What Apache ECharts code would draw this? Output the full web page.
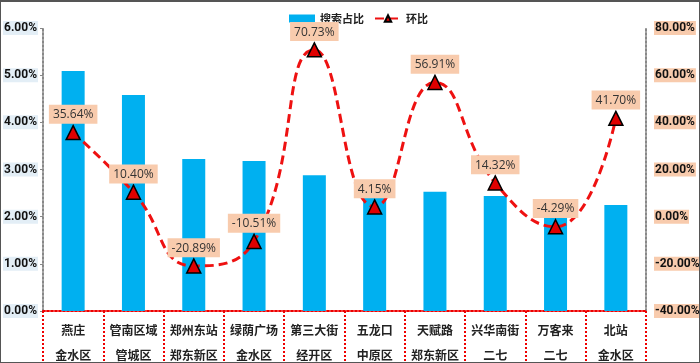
<!DOCTYPE html>
<html><head><meta charset="utf-8">
<script src="https://cdn.jsdelivr.net/npm/echarts@6/dist/echarts.min.js"></script>
<style>html,body{margin:0;padding:0;background:#fff}#w{position:relative;width:700px;height:363px}#c{width:700px;height:363px}#b{position:absolute;left:0;top:0;width:700px;height:363px;box-sizing:border-box;border:1px solid #555;border-top-width:2px;pointer-events:none}</style>
</head><body><div id="w"><div id="c"></div><div id="b"></div></div>
<script>
const places = ['燕庄','管南区域','郑州东站','绿荫广场','第三大街','五龙口','天赋路','兴华南街','万客来','北站'];
const districts = ['金水区','管城区','郑东新区','金水区','经开区','中原区','郑东新区','二七','二七','金水区'];
const searchShare = [5.09, 4.58, 3.22, 3.18, 2.88, 2.40, 2.53, 2.44, 1.97, 2.25];
const momChange = [35.64, 10.40, -20.89, -10.51, 70.73, 4.15, 56.91, 14.32, -4.29, 41.70];
const leftTicks = [0, 6, 1];
const rightTicks = [-40, 80, 20];

const font = '"Microsoft YaHei","Noto Sans CJK SC",sans-serif';
const numFont = 'Roboto,sans-serif';
const chart = echarts.init(document.getElementById('c'));
chart.setOption({
  animation: false,
  textStyle: {fontFamily: font},
  legend: {
    top: 8, left: 284, itemGap: 10,
    textStyle: {fontWeight: 'bold', fontSize: 11, color: '#222', fontFamily: font},
    data: [
      {name: '搜索占比', icon: 'rect', itemStyle: {color: '#00B0F0'}},
      {name: '环比'}
    ],
    itemWidth: 26, itemHeight: 8
  },
  grid: {left: 43, right: 54, top: 28, bottom: 52, outerBoundsMode: 'none', containLabel: false},
  xAxis: {
    type: 'category',
    data: places.map((p, i) => p + '\n' + districts[i]),
    boundaryGap: true,
    axisLine: {lineStyle: {color: '#e00', type: 'dotted', width: 2}},
    axisTick: {show: true, interval: 0, length: 52, lineStyle: {color: '#e00', type: 'dotted', width: 2}},
    axisLabel: {interval: 0, align: 'center', fontWeight: 'bold', fontSize: 12, color: '#222', lineHeight: 25, margin: 7, fontFamily: font}
  },
  yAxis: [
    {
      type: 'value', min: leftTicks[0], max: leftTicks[1], interval: leftTicks[2],
      splitLine: {show: false},
      axisLine: {show: true, lineStyle: {color: '#888', type: 'dotted', width: 2}},
      axisTick: {show: true, length: 3, lineStyle: {color: '#888'}},
      axisLabel: {
        formatter: v => v.toFixed(2) + '%', fontWeight: 'bold', fontSize: 12, color: '#111',
        backgroundColor: '#E3EEF6', padding: [1, 1], margin: 5, fontFamily: numFont
      }
    },
    {
      type: 'value', min: rightTicks[0], max: rightTicks[1], interval: rightTicks[2],
      splitLine: {show: false},
      axisLine: {show: true, lineStyle: {color: '#888', type: 'dotted', width: 2}},
      axisTick: {show: false},
      axisLabel: {
        formatter: v => v.toFixed(2) + '%', fontWeight: 'bold', fontSize: 12, color: '#111',
        backgroundColor: '#F8CBAD', padding: [1, 1], margin: 8, fontFamily: numFont
      }
    }
  ],
  series: [
    {
      name: '搜索占比', type: 'bar', data: searchShare, barWidth: 23,
      itemStyle: {color: '#00B0F0'}
    },
    {
      name: '环比', type: 'line', yAxisIndex: 1, data: momChange, smooth: 0.5,
      symbol: 'triangle', symbolSize: 14,
      itemStyle: {color: '#E00000', borderColor: '#000', borderWidth: 1.5},
      lineStyle: {color: '#EE1111', width: 3, type: [9, 5]},
      label: {
        show: true, position: 'top', distance: 1,
        formatter: p => p.value.toFixed(2) + '%',
        backgroundColor: '#F8CBAD', padding: [4, 4, 3, 4], fontSize: 12, color: '#333', fontFamily: '"Open Sans",sans-serif'
      },
      z: 5
    }
  ]
});
</script></body></html>
